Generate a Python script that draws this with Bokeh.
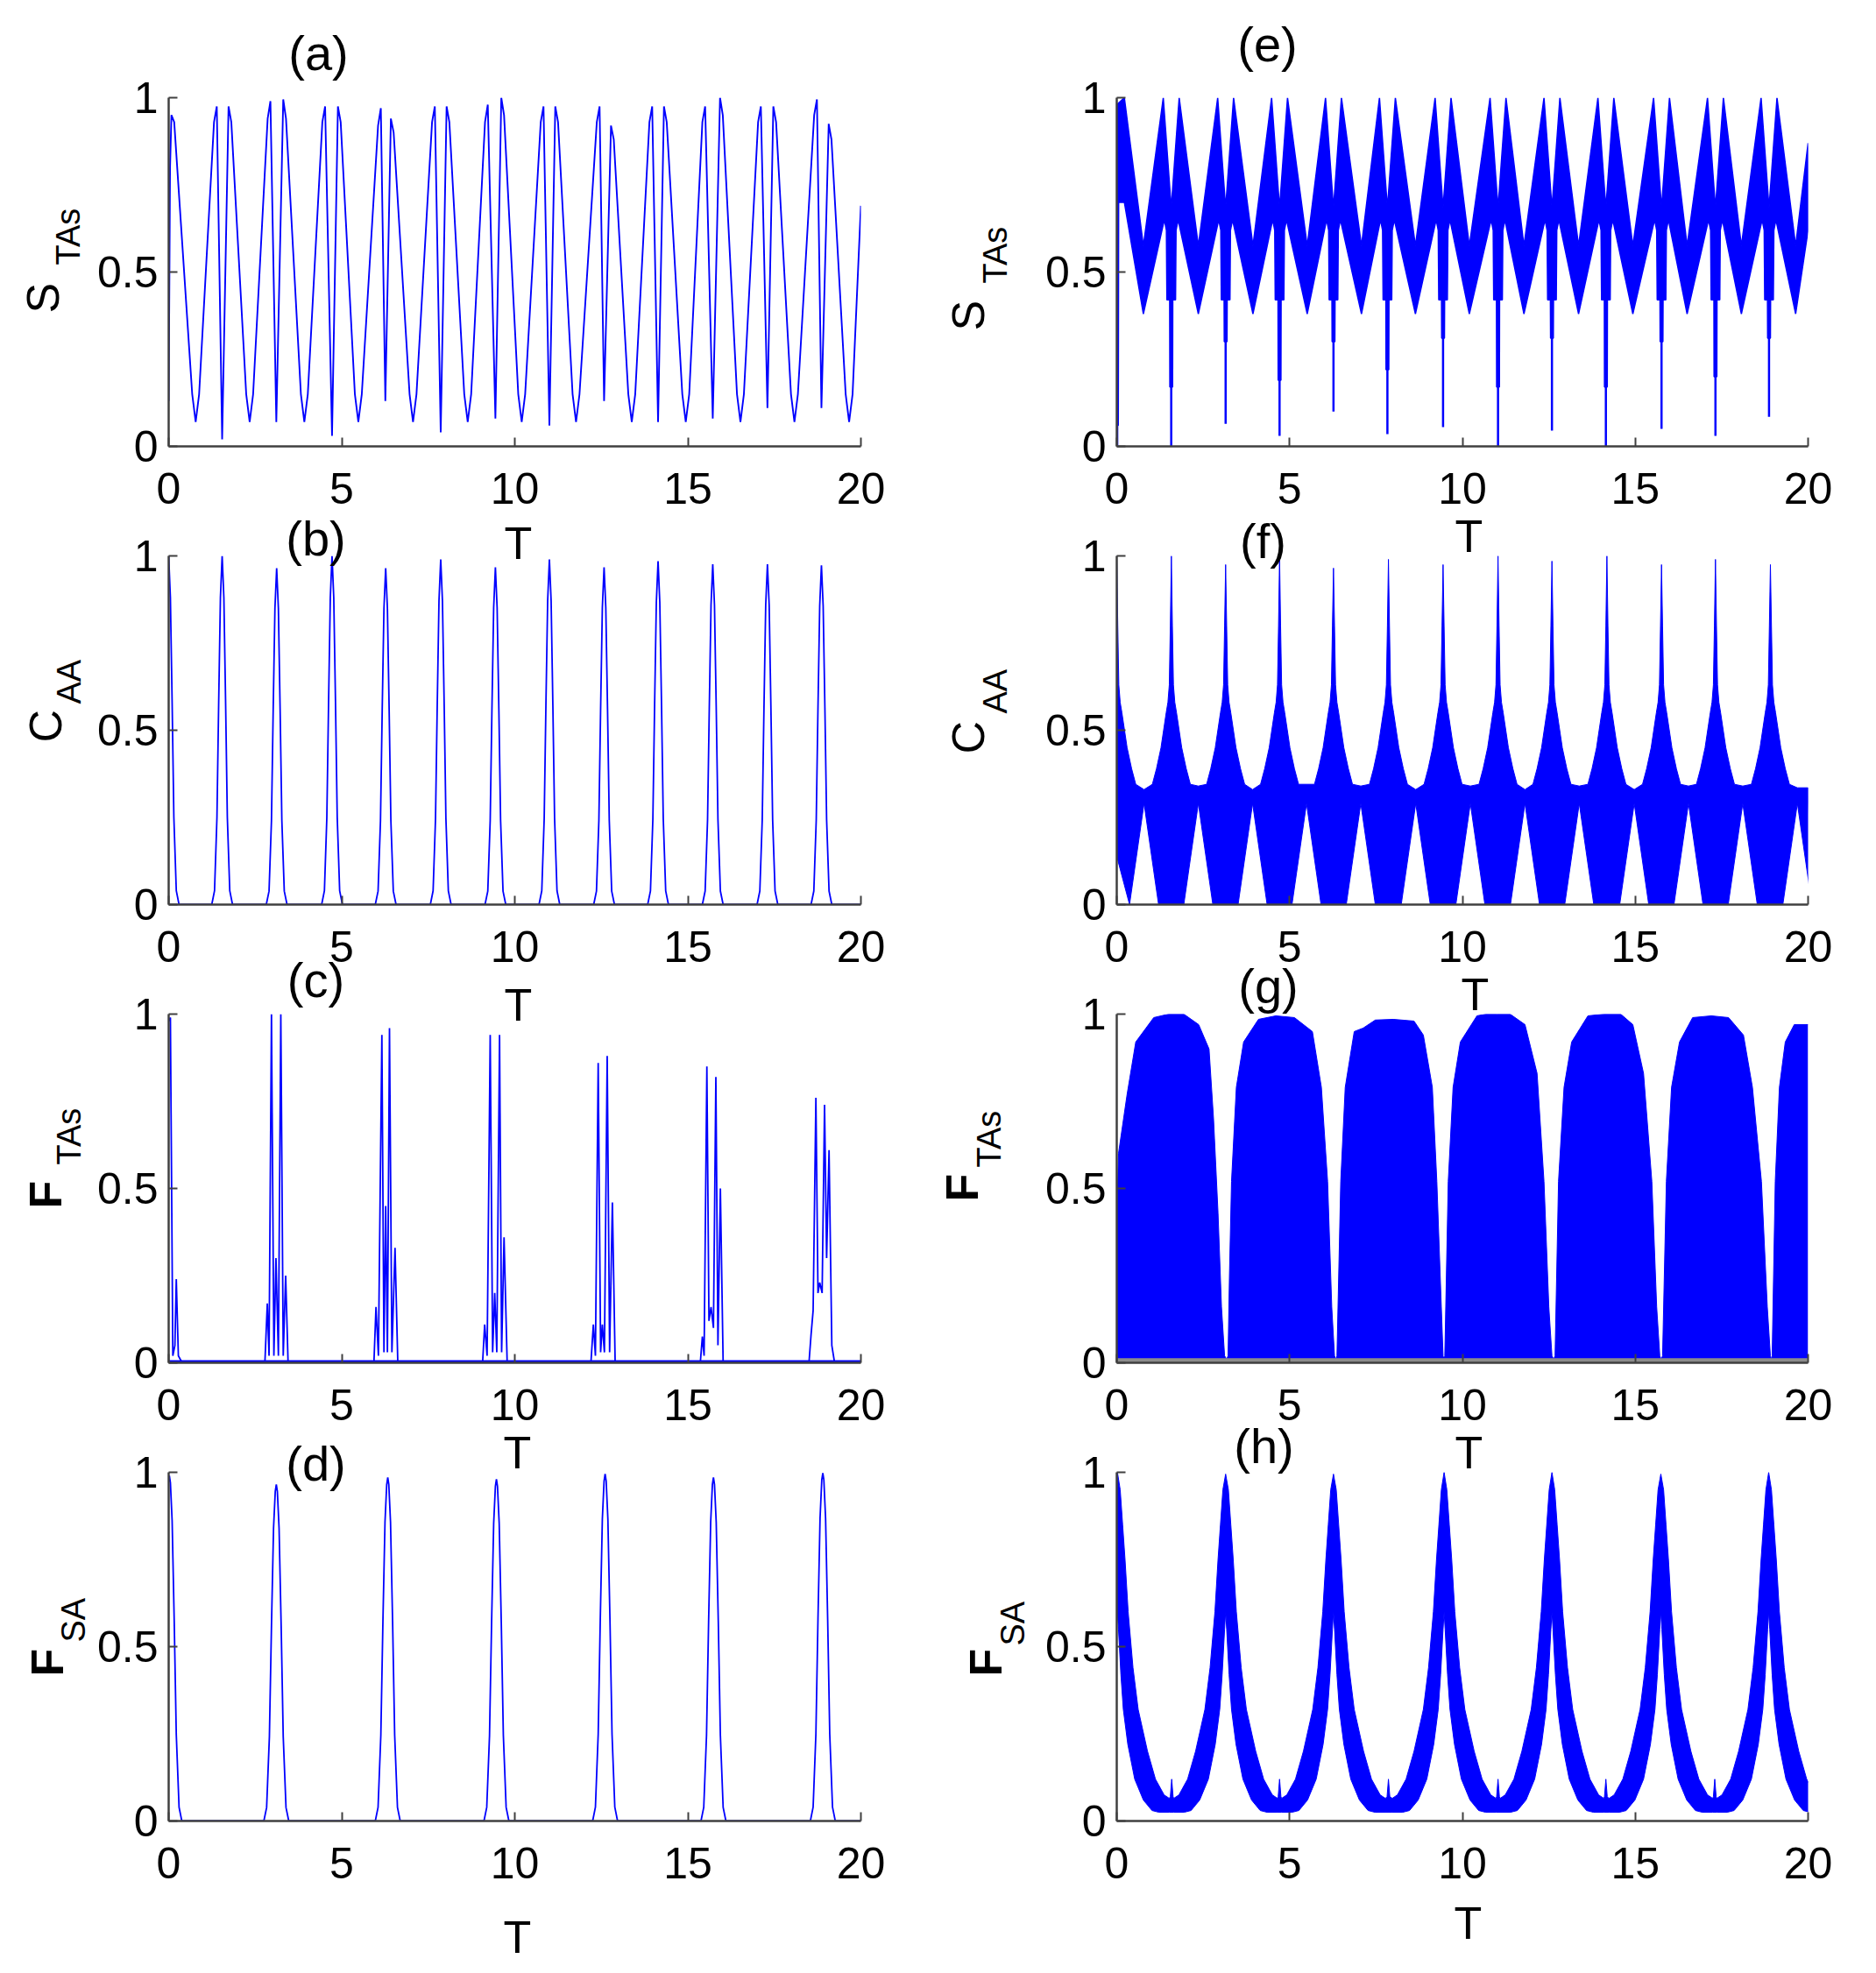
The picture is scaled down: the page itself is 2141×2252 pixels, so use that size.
import math
from bokeh.plotting import figure
from bokeh.models import Range1d, FixedTicker, Label
from bokeh.layouts import column, row
from bokeh.embed import file_html
from bokeh.resources import INLINE

BLUE = "#0000ff"
AXIS = "#404040"
SANS = "Liberation Sans"

# ---------------- data ----------------
x_ticks = [0, 5, 10, 15, 20]
y_ticks = [0, 0.5, 1]
y_tick_labels = {0: "0", 0.5: "0.5", 1: "1"}
panel_names = ["(a)", "(b)", "(c)", "(d)", "(e)", "(f)", "(g)", "(h)"]
y_main = ["S", "C", "F", "F", "S", "C", "F", "F"]
y_sub = ["TAs", "AA", "TAs", "SA", "TAs", "AA", "TAs", "SA"]
x_label = "T"

# (a) S_TAs
a_t = [0.00, 0.04, 0.08, 0.16,
       0.68, 0.78, 0.88, 1.31, 1.39, 1.545, 1.73, 1.81,
       2.24, 2.34, 2.44, 2.86, 2.94, 3.11, 3.31, 3.39,
       3.82, 3.92, 4.02, 4.44, 4.52, 4.72, 4.89, 4.97,
       5.38, 5.48, 5.58, 6.05, 6.13, 6.26, 6.42, 6.50,
       6.96, 7.06, 7.16, 7.61, 7.69, 7.86, 8.03, 8.11,
       8.54, 8.64, 8.74, 9.14, 9.22, 9.44, 9.61, 9.69,
       10.10, 10.20, 10.30, 10.75, 10.83, 11.00, 11.17, 11.25,
       11.67, 11.77, 11.87, 12.37, 12.45, 12.58, 12.78, 12.86,
       13.28, 13.38, 13.48, 13.89, 13.97, 14.14, 14.31, 14.39,
       14.84, 14.94, 15.04, 15.42, 15.50, 15.72, 15.93, 16.01,
       16.42, 16.52, 16.62, 17.03, 17.11, 17.30, 17.47, 17.55,
       17.98, 18.08, 18.18, 18.65, 18.73, 18.86, 19.07, 19.15,
       19.56, 19.66, 19.76, 20.00]
a_v = [0.13, 0.80, 0.95, 0.93,
       0.15, 0.07, 0.15, 0.93, 0.975, 0.02, 0.975, 0.93,
       0.15, 0.07, 0.15, 0.94, 0.99, 0.07, 0.995, 0.94,
       0.15, 0.07, 0.15, 0.93, 0.975, 0.03, 0.975, 0.93,
       0.15, 0.07, 0.15, 0.92, 0.97, 0.13, 0.94, 0.90,
       0.15, 0.07, 0.15, 0.93, 0.975, 0.04, 0.975, 0.93,
       0.15, 0.07, 0.15, 0.93, 0.98, 0.08, 1.00, 0.95,
       0.15, 0.07, 0.15, 0.93, 0.975, 0.06, 0.975, 0.93,
       0.15, 0.07, 0.15, 0.93, 0.975, 0.13, 0.92, 0.88,
       0.15, 0.07, 0.15, 0.93, 0.975, 0.07, 0.975, 0.93,
       0.15, 0.07, 0.15, 0.93, 0.975, 0.08, 1.00, 0.95,
       0.15, 0.07, 0.15, 0.93, 0.975, 0.11, 0.975, 0.93,
       0.15, 0.07, 0.15, 0.95, 0.995, 0.11, 0.925, 0.88,
       0.15, 0.07, 0.15, 0.69]

# (b) C_AA peaks
b_peak_t = [0.0, 1.545, 3.12, 4.72, 6.27, 7.86, 9.44, 11.0, 12.58, 14.14, 15.72, 17.3, 18.86]
b_peak_v = [1.0, 1.0, 0.965, 1.0, 0.965, 0.99, 0.967, 0.99, 0.967, 0.985, 0.976, 0.976, 0.973]
b_shape_dt = [-0.30, -0.22, -0.15, -0.10, -0.05, 0.0, 0.05, 0.10, 0.15, 0.22, 0.30]
b_shape_f = [0.0, 0.04, 0.25, 0.58, 0.88, 1.0, 0.88, 0.58, 0.25, 0.04, 0.0]

# (c) F_TAs spike groups
c_t = [0.00, 0.05, 0.12, 0.18, 0.22, 0.28, 0.39,
       2.78, 2.85, 2.90, 2.97, 3.04, 3.10, 3.17, 3.24, 3.31, 3.38, 3.45,
       5.93, 5.99, 6.06, 6.16, 6.22, 6.27, 6.32, 6.38, 6.45, 6.54, 6.62,
       9.07, 9.13, 9.20, 9.29, 9.36, 9.42, 9.48, 9.56, 9.62, 9.69, 9.78,
       12.20, 12.27, 12.33, 12.41, 12.48, 12.53, 12.59, 12.67, 12.74, 12.82, 12.90,
       15.36, 15.42, 15.47, 15.55, 15.61, 15.67, 15.74, 15.81, 15.87, 15.94, 16.02,
       18.50, 18.56, 18.62, 18.70, 18.76, 18.81, 18.88, 18.95, 19.01, 19.08, 19.16, 19.24,
       20.00]
c_v = [0.98, 0.99, 0.02, 0.05, 0.24, 0.02, 0.0,
       0.0, 0.17, 0.02, 1.0, 0.02, 0.30, 0.02, 1.0, 0.02, 0.25, 0.0,
       0.0, 0.16, 0.02, 0.94, 0.03, 0.45, 0.03, 0.96, 0.03, 0.33, 0.0,
       0.0, 0.11, 0.02, 0.94, 0.03, 0.20, 0.03, 0.94, 0.03, 0.36, 0.0,
       0.0, 0.11, 0.02, 0.86, 0.03, 0.11, 0.03, 0.88, 0.03, 0.46, 0.0,
       0.0, 0.075, 0.02, 0.85, 0.12, 0.16, 0.10, 0.82, 0.05, 0.50, 0.0,
       0.0, 0.08, 0.15, 0.76, 0.20, 0.23, 0.20, 0.74, 0.30, 0.61, 0.05, 0.0,
       0.0]

# (d) F_SA peaks
d_peak_t = [0.02, 3.11, 6.33, 9.47, 12.61, 15.74, 18.90]
d_peak_v = [0.99, 0.965, 0.985, 0.98, 0.995, 0.985, 0.998]
d_shape_dt = [-0.36, -0.28, -0.20, -0.14, -0.08, -0.03, 0.0, 0.03, 0.08, 0.14, 0.20, 0.28, 0.36]
d_shape_f = [0.0, 0.04, 0.25, 0.58, 0.87, 0.98, 1.0, 0.98, 0.87, 0.58, 0.25, 0.04, 0.0]

# (e) S_TAs, strong coupling: band envelopes
e_min_t = [0.77, 2.36, 3.94, 5.51, 7.08, 8.64, 10.20, 11.78, 13.36, 14.93, 16.50, 18.07, 19.64]
e_dip_t = [1.576, 3.15, 4.71, 6.27, 7.83, 9.44, 11.03, 12.59, 14.15, 15.76, 17.32, 18.87]
e_col_v = [0.17, 0.30, 0.19, 0.30, 0.22, 0.31, 0.17, 0.31, 0.17, 0.30, 0.20, 0.31]
e_spike_v = [0.0, 0.065, 0.03, 0.10, 0.035, 0.055, 0.0, 0.045, 0.0, 0.05, 0.03, 0.085]
e_up_levels = {"min": 0.575, "peak": 1.0, "notch": 0.684, "start": 0.98, "end": 0.87}
e_lo_levels = {"min": 0.38, "peak": 0.65, "knee": 0.62, "shoulder": 0.42, "start": 0.06,
               "start2": 0.70, "end": 0.62}

# (f) C_AA, strong coupling
f_peak_t = [0.0, 1.58, 3.15, 4.71, 6.27, 7.86, 9.44, 11.03, 12.59, 14.18, 15.76, 17.32, 18.91]
f_peak_v = [1.0, 1.0, 0.975, 1.0, 0.965, 0.99, 0.975, 1.0, 0.985, 1.0, 0.975, 0.99, 0.975]
f_min_t = [0.79, 2.36, 3.93, 5.49, 7.06, 8.65, 10.23, 11.81, 13.38, 14.97, 16.54, 18.11, 19.69]
f_flat_v = [0.33, 0.34, 0.33, 0.345, 0.34, 0.33, 0.34, 0.33, 0.34, 0.33, 0.34, 0.34, 0.335]
f_cusp_dt = [-0.55, -0.43, -0.30, -0.15, -0.10, -0.06, -0.03, 0.03, 0.06, 0.10, 0.15, 0.30, 0.43, 0.55]
f_cusp_v = [0.345, 0.39, 0.45, 0.55, 0.58, 0.63, 0.80, 0.80, 0.63, 0.58, 0.55, 0.45, 0.39, 0.345]
f_gap_top = 0.29
f_gap_half = 0.42

# (g) F_TAs, strong coupling: arch envelope
g_t = [0.00, 0.05, 0.30, 0.55, 1.07, 1.50, 1.94, 2.37, 2.67, 2.80, 2.93, 3.03, 3.12,
       3.18, 3.22, 3.26, 3.32, 3.46, 3.67, 4.10, 4.60, 5.14, 5.66, 5.92, 6.10, 6.22, 6.30,
       6.34, 6.37, 6.48, 6.61, 6.87, 7.13, 7.48, 8.00, 8.60, 8.87, 9.13, 9.26, 9.39, 9.44,
       9.47, 9.49, 9.59, 9.73, 9.94, 10.42, 10.68, 11.00, 11.38, 11.81, 12.16, 12.36, 12.50, 12.59,
       12.64, 12.68, 12.78, 12.94, 13.16, 13.63, 14.10, 14.58, 14.93, 15.24, 15.48, 15.62, 15.71,
       15.75, 15.79, 15.90, 16.05, 16.28, 16.66, 17.20, 17.70, 18.13, 18.39, 18.65, 18.82, 18.91,
       18.94, 18.96, 19.05, 19.17, 19.34, 19.60, 20.00]
g_v = [0.40, 0.60, 0.77, 0.92, 0.99, 1.0, 1.0, 0.97, 0.90, 0.70, 0.43, 0.16, 0.02,
       0.01, 0.02, 0.25, 0.52, 0.79, 0.92, 0.985, 0.995, 0.99, 0.95, 0.79, 0.52, 0.16, 0.02,
       0.01, 0.02, 0.52, 0.79, 0.95, 0.96, 0.983, 0.985, 0.98, 0.94, 0.79, 0.52, 0.16, 0.02,
       0.01, 0.02, 0.52, 0.79, 0.92, 0.995, 1.0, 1.0, 1.0, 0.97, 0.83, 0.52, 0.16, 0.02,
       0.01, 0.02, 0.52, 0.79, 0.92, 0.995, 1.0, 1.0, 0.97, 0.83, 0.52, 0.16, 0.02,
       0.01, 0.02, 0.52, 0.79, 0.92, 0.99, 0.995, 0.99, 0.94, 0.79, 0.52, 0.16, 0.02,
       0.01, 0.02, 0.52, 0.79, 0.92, 0.97, 0.97]
g_floor_t = [0.0, 20.0]
g_floor_v = [0.007, 0.007]

# (h) F_SA, strong coupling
h_peak_t = [0.02, 3.15, 6.27, 9.47, 12.59, 15.74, 18.86]
h_peak_v = [1.0, 0.995, 0.995, 1.0, 1.0, 0.995, 1.0]
h_up_dt = [-1.50, -1.35, -1.10, -0.87, -0.60, -0.45, -0.31, -0.22, -0.15, -0.08, 0.0,
           0.08, 0.15, 0.22, 0.31, 0.45, 0.60, 0.87, 1.10, 1.35, 1.50]
h_up_v = [0.065, 0.075, 0.12, 0.20, 0.32, 0.44, 0.60, 0.75, 0.85, 0.95, 1.0,
          0.95, 0.85, 0.75, 0.60, 0.44, 0.32, 0.20, 0.12, 0.075, 0.065]
h_lo_dt = [-1.50, -1.20, -1.00, -0.75, -0.50, -0.30, -0.17, -0.10, -0.03, 0.0,
           0.03, 0.10, 0.17, 0.30, 0.50, 0.75, 1.00, 1.20, 1.50]
h_lo_v = [0.025, 0.025, 0.03, 0.06, 0.12, 0.22, 0.32, 0.42, 0.55, 0.60,
          0.55, 0.42, 0.32, 0.22, 0.12, 0.06, 0.03, 0.025, 0.025]
h_blip_t = [1.59, 4.71, 7.86, 11.03, 14.15, 17.30]
h_blip_v = [0.12, 0.12, 0.12, 0.12, 0.12, 0.12]

# ---------------- layout (page pixels) ----------------
FW = [790, 789]
FH = 398
BORDER_L = [192, 190]
BORDER_R = [102, 60]
BORDER_T = [111, 30, 30, 30]
BORDER_B = [95, 95, 95, 100]


def make_fig(r, c):
    p = figure(frame_width=FW[c], frame_height=FH,
               x_range=Range1d(0, 20), y_range=Range1d(0, 1),
               output_backend="svg", toolbar_location=None,
               min_border_left=BORDER_L[c], min_border_right=BORDER_R[c],
               min_border_top=BORDER_T[r], min_border_bottom=BORDER_B[r],
               background_fill_color="white", border_fill_color="white")
    p.outline_line_color = None
    p.xgrid.visible = False
    p.ygrid.visible = False
    p.xaxis.ticker = FixedTicker(ticks=x_ticks)
    p.yaxis.ticker = FixedTicker(ticks=y_ticks)
    p.yaxis.major_label_overrides = y_tick_labels
    for ax in (p.xaxis[0], p.yaxis[0]):
        ax.axis_line_color = AXIS
        ax.axis_line_width = 2.5
        ax.major_tick_line_color = AXIS
        ax.major_tick_line_width = 2
        ax.major_tick_in = 10
        ax.major_tick_out = 0
        ax.minor_tick_line_color = None
        ax.major_label_text_font = SANS
        ax.major_label_text_font_size = "50px"
        ax.major_label_text_color = "black"
    p.xaxis.major_label_standoff = 30
    p.yaxis.major_label_standoff = 12
    return p


def template_series(centers, heights, dts, fracs, t_end):
    ts, vs = [], []
    for cc, hh in zip(centers, heights):
        for dt, f in zip(dts, fracs):
            ts.append(cc + dt)
            vs.append(hh * f)
    ts.append(t_end)
    vs.append(0.0)
    return ts, vs


figs = {}
for r in range(4):
    for c in range(2):
        figs[(r, c)] = make_fig(r, c)

# (a)
pa = figs[(0, 0)]
pa.line(a_t, a_v, line_color=BLUE, line_width=1.9)
# (b)
pb = figs[(1, 0)]
bt, bv = template_series(b_peak_t, b_peak_v, b_shape_dt, b_shape_f, 20.0)
pb.line(bt, bv, line_color=BLUE, line_width=1.8)
# (c)
pc = figs[(2, 0)]
pc.line(c_t, c_v, line_color=BLUE, line_width=1.8)
pc.line([0, 20], [0.004, 0.004], line_color=BLUE, line_width=3)
# (d)
pd = figs[(3, 0)]
dt_, dv_ = template_series(d_peak_t, d_peak_v, d_shape_dt, d_shape_f, 20.0)
pd.line(dt_, dv_, line_color=BLUE, line_width=1.8)

# (e)
pe = figs[(0, 1)]
ut = [0.0, 0.22]
uv = [e_up_levels["start"], e_up_levels["peak"]]
lt = [0.0, 0.045, 0.055, 0.22]
lv = [e_lo_levels["start"], e_lo_levels["start"], e_lo_levels["start2"], e_lo_levels["start2"]]
for i, m in enumerate(e_min_t):
    ut.append(m); uv.append(e_up_levels["min"])
    lt.append(m); lv.append(e_lo_levels["min"])
    if i < len(e_dip_t):
        d = e_dip_t[i]
        col = e_col_v[i]
        ut += [d - 0.23, d, d + 0.23]
        uv += [e_up_levels["peak"], e_up_levels["notch"], e_up_levels["peak"]]
        lt += [d - 0.2, d - 0.14, d - 0.125, d - 0.045, d - 0.04, d + 0.04, d + 0.045,
               d + 0.125, d + 0.14, d + 0.2]
        lv += [e_lo_levels["peak"], e_lo_levels["knee"], e_lo_levels["shoulder"],
               e_lo_levels["shoulder"], col, col, e_lo_levels["shoulder"],
               e_lo_levels["shoulder"], e_lo_levels["knee"], e_lo_levels["peak"]]
ut.append(20.0); uv.append(e_up_levels["end"])
lt.append(20.0); lv.append(e_lo_levels["end"])
pe.patch(ut + lt[::-1], uv + lv[::-1], fill_color=BLUE, line_color=BLUE, line_width=1.5)
pe.segment(x0=e_dip_t, y0=e_col_v, x1=e_dip_t, y1=e_spike_v, line_color=BLUE, line_width=2.5)
pe.segment(x0=[0.02], y0=[0.06], x1=[0.02], y1=[0.0], line_color=BLUE, line_width=2)

# (f)
pf = figs[(1, 1)]
ut, uv = [], []
for i, (pk, pv) in enumerate(zip(f_peak_t, f_peak_v)):
    for j, (dt, v) in enumerate(zip(f_cusp_dt, f_cusp_v)):
        if dt > 0 and (j == 0 or f_cusp_dt[j - 1] < 0):
            ut.append(pk); uv.append(pv)
        ut.append(pk + dt); uv.append(v)
    ut.append(f_min_t[i]); uv.append(f_flat_v[i])
ut.append(20.0); uv.append(f_flat_v[-1])
lt, lv = [], []
for m in f_min_t:
    lt += [m - f_gap_half, m, m + f_gap_half]
    lv += [0.0, f_gap_top, 0.0]
pf.patch(ut + lt[::-1], uv + lv[::-1], fill_color=BLUE, line_color=BLUE, line_width=1)

# (g)
pg = figs[(2, 1)]
pg.varea(x=g_t, y1=[0.0] * len(g_t), y2=g_v, fill_color=BLUE)
pg.line(g_t, g_v, line_color=BLUE, line_width=1)
pg.line(g_floor_t, g_floor_v, line_color="#8c8c8c", line_width=5)

# (h)
ph = figs[(3, 1)]
ut, uv, lt, lv = [], [], [], []
for i, (pk, pv) in enumerate(zip(h_peak_t, h_peak_v)):
    for dt, v in zip(h_up_dt, h_up_v):
        ut.append(pk + dt); uv.append(pv if dt == 0.0 else v)
    for dt, v in zip(h_lo_dt, h_lo_v):
        lt.append(pk + dt); lv.append(v)
    if i < len(h_blip_t):
        m = h_blip_t[i]
        ut += [m - 0.04, m, m + 0.04]
        uv += [0.07, h_blip_v[i], 0.07]
ph.patch(ut + lt[::-1], uv + lv[::-1], fill_color=BLUE, line_color=BLUE, line_width=1)

grid = column(*[row(figs[(r, 0)], figs[(r, 1)]) for r in range(4)])
GRID_H = sum(BORDER_T) + sum(BORDER_B) + 4 * FH

# ---------------- text overlay (page pixel coordinates) ----------------
OW, OH = 2130, 2250
ov = figure(width=OW, height=OH, x_range=Range1d(0, OW), y_range=Range1d(OH, 0),
            x_axis_type=None, y_axis_type=None, output_backend="svg",
            toolbar_location=None, min_border=0, outline_line_color=None,
            background_fill_color=None, border_fill_color=None,
            margin=(-GRID_H, 0, 0, 0))
ov.xgrid.visible = False
ov.ygrid.visible = False

SHIFT = 0.37  # renderer places the anchor this fraction of an em above the baseline


def add_text(px, py, text, size, align="center", rotated=False, style="normal"):
    if rotated:
        x, y, ang = px - SHIFT * size, py, math.pi / 2
    else:
        x, y, ang = px, py - SHIFT * size, 0.0
    ov.add_layout(Label(x=x, y=y, text=text, text_font=SANS, text_font_size=f"{size}px",
                        text_align=align, text_baseline="alphabetic", angle=ang,
                        text_color="black", text_font_style=style))


panel_pos = [(363, 81), (360, 635), (360, 1139), (360, 1691),
             (1446, 71), (1441, 638), (1447, 1146), (1442, 1671)]
for k in range(8):
    add_text(panel_pos[k][0], panel_pos[k][1], panel_names[k], 56)

t_pos = [(591, 639), (591, 1166), (590, 1677), (590, 2230),
         (1676, 631), (1683, 1154), (1676, 1677), (1675, 2214)]
for px, py in t_pos:
    add_text(px, py, x_label, 52)

ylab_pos = [((68, 357), (92, 302)), ((71, 847), (93, 803)), ((71, 1379), (93, 1329)),
            ((73, 1913), (98, 1874)), ((1124, 377), (1150, 323)), ((1124, 860), (1150, 814)),
            ((1117, 1371), (1143, 1332)), ((1144, 1913), (1170, 1878))]
for k in range(8):
    (mx, my), (sx, sy) = ylab_pos[k]
    style = "bold" if y_main[k] == "F" else "normal"
    add_text(mx, my, y_main[k], 52, align="left", rotated=True, style=style)
    add_text(sx, sy, y_sub[k], 38, align="left", rotated=True)

layout = column(grid, ov)
open("out.html", "w").write(file_html(layout, INLINE))
